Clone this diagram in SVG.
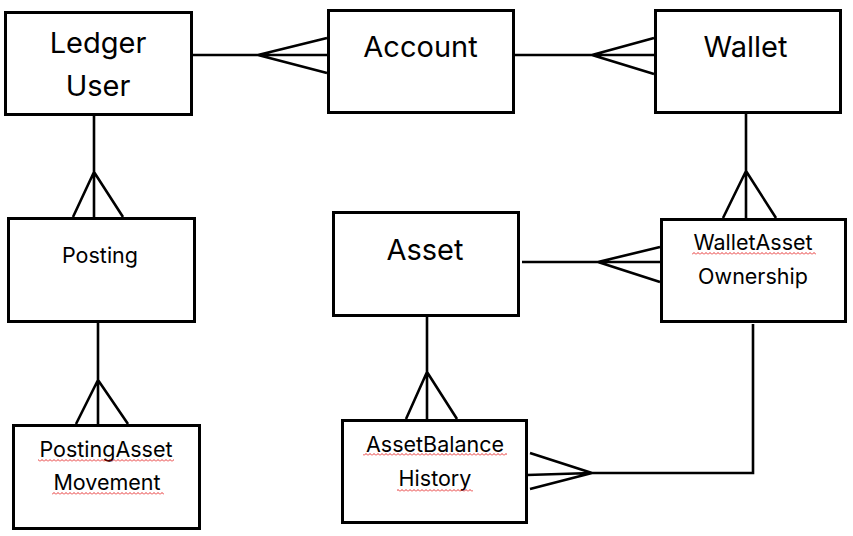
<svg xmlns="http://www.w3.org/2000/svg" width="853" height="536" viewBox="0 0 853 536">
<style>
.box{fill:#fff;stroke:#000;stroke-width:3}
.ln{fill:none;stroke:#000;stroke-width:2.6;stroke-linejoin:miter}
.big{font-family:Inter,"Open Sans",sans-serif;font-size:29px;fill:#000;text-anchor:middle}
.sm{font-family:Inter,"Open Sans",sans-serif;font-size:21.5px;fill:#000;text-anchor:middle}
.sq{fill:url(#squig)}
</style>
<defs>
<pattern id="squig" width="4" height="3" patternUnits="userSpaceOnUse">
<path d="M0 2.5 L2 0.5 L4 2.5" fill="none" stroke="#e00000" stroke-width="0.8"/>
</pattern>
</defs>
<g id="connectors">
<!-- Ledger User - Account -->
<path class="ln" d="M192 55 H327 M258 55 L327 38 M258 55 L327 73"/>
<!-- Account - Wallet -->
<path class="ln" d="M514 55 H654 M592 55 L654 38 M592 55 L654 74"/>
<!-- Ledger User - Posting -->
<path class="ln" d="M94 116 V217 M94 172 L73 217 M94 172 L123 217"/>
<!-- Posting - PostingAssetMovement -->
<path class="ln" d="M98 322 V424 M98 380 L76 424 M98 380 L128 424"/>
<!-- Wallet - WalletAssetOwnership -->
<path class="ln" d="M746 113 V218 M746 171 L723 218 M746 171 L776 218"/>
<!-- Asset - WalletAssetOwnership -->
<path class="ln" d="M522 262 H660 M598 262 L660 247 M598 262 L660 282"/>
<!-- Asset - AssetBalanceHistory -->
<path class="ln" d="M427 316 V419 M427 372 L406 419 M427 372 L457 419"/>
<!-- WalletAssetOwnership - AssetBalanceHistory -->
<path class="ln" d="M753 324 V473 H592 L527 475 M592 473 L530 453 M592 473 L530 489"/>
</g>
<g id="ledger-user">
<rect class="box" x="5.5" y="12.5" width="186" height="102"/>
<text class="big" x="98" y="53">Ledger</text>
<text class="big" x="98" y="96">User</text>
</g>
<g id="account">
<rect class="box" x="328.5" y="10.5" width="185" height="102"/>
<text class="big" x="420.5" y="57">Account</text>
</g>
<g id="wallet">
<rect class="box" x="655.5" y="10.5" width="185" height="102"/>
<text class="big" x="745.5" y="57">Wallet</text>
</g>
<g id="posting">
<rect class="box" x="8.5" y="218.5" width="186" height="103"/>
<text class="sm" x="100" y="263">Posting</text>
</g>
<g id="asset">
<rect class="box" x="333.5" y="212.5" width="185" height="103"/>
<text class="big" x="425" y="260">Asset</text>
</g>
<g id="wallet-asset-ownership">
<rect class="box" x="661.5" y="219.5" width="184" height="102"/>
<text class="sm" x="753" y="250">WalletAsset</text>
<text class="sm" x="753" y="284">Ownership</text>
<rect class="sq" x="692" y="252" width="124" height="3"/>
</g>
<g id="posting-asset-movement">
<rect class="box" x="13.5" y="425.5" width="186" height="103"/>
<text class="sm" x="106" y="457">PostingAsset</text>
<text class="sm" x="107" y="490">Movement</text>
<rect class="sq" x="38" y="459" width="136" height="3"/>
<rect class="sq" x="52" y="492" width="112" height="3"/>
</g>
<g id="asset-balance-history">
<rect class="box" x="342.5" y="420.5" width="184" height="102"/>
<text class="sm" x="435" y="452">AssetBalance</text>
<text class="sm" x="435" y="486">History</text>
<rect class="sq" x="363" y="453" width="144" height="3"/>
<rect class="sq" x="397" y="489" width="76" height="3"/>
</g>
</svg>
